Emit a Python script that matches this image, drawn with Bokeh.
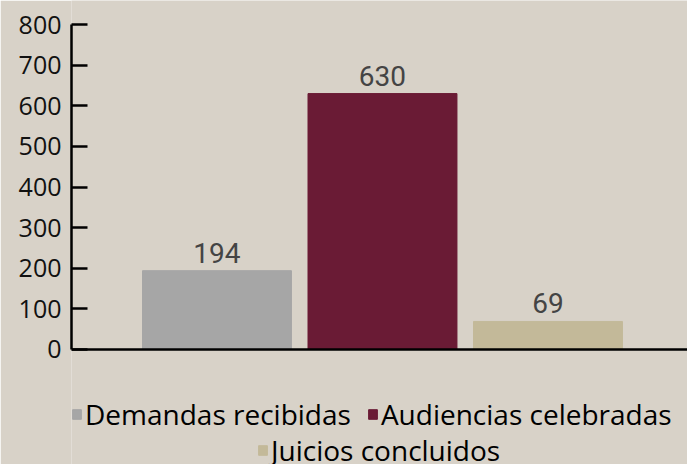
from bokeh.plotting import figure
from bokeh.models import ColumnDataSource, Range1d, FixedTicker, Legend, LegendItem, LabelSet, Span
from bokeh.core.properties import value
from bokeh.embed import file_html
from bokeh.resources import INLINE

categories = ["Demandas recibidas", "Audiencias celebradas", "Juicios concluidos"]
values = [194, 630, 69]
colors = ["#a6a6a6", "#6a1b35", "#c3b999"]
y_ticks = [0, 100, 200, 300, 400, 500, 600, 700, 800]

BG = "#d8d2c8"

x = list(range(1, len(categories) + 1))
src = ColumnDataSource(dict(x=x, top=values, color=colors,
                            label=[str(v) for v in values], cat=categories))

p = figure(width=687, height=464, output_backend="svg", toolbar_location=None,
           x_range=Range1d(0.121, 3.843), y_range=Range1d(-283.08, 859.08),
           min_border_left=71, min_border_right=0, min_border_top=0,
           min_border_bottom=0,
           background_fill_color=BG, border_fill_color=BG, outline_line_color=None)

r = p.vbar(x="x", top="top", width=0.9, color="color", source=src)

p.xgrid.visible = False
p.ygrid.visible = False
p.xaxis.visible = False

yax = p.yaxis[0]
yax.ticker = FixedTicker(ticks=y_ticks)
yax.bounds = (0, 800)
yax.major_tick_in = 16
yax.major_tick_out = 0
yax.major_tick_line_width = 2.5
yax.major_tick_line_color = "#000000"
yax.minor_tick_line_color = None
yax.axis_line_width = 2.5
yax.axis_line_color = "#000000"
yax.major_label_standoff = 10
yax.major_label_text_font = "Open Sans"
yax.major_label_text_font_size = "25px"
yax.major_label_text_color = "#111111"

p.add_layout(Span(location=0, dimension="width", line_color="#000000", line_width=2.5))

labels = LabelSet(x="x", y="top", text="label", source=src, y_offset=8,
                  text_align="center", text_baseline="alphabetic",
                  text_font=value("Roboto"), text_font_size="28px",
                  text_color="#444444")
p.add_layout(labels)

def make_legend(idx, loc):
    leg = Legend(items=[LegendItem(label=categories[i], renderers=[r], index=i) for i in idx],
                 orientation="horizontal", location=loc,
                 label_text_font="Open Sans", label_text_font_size="28px",
                 label_text_color="#000000",
                 glyph_width=11, glyph_height=12, label_standoff=3, spacing=16,
                 padding=0, margin=0, border_line_color=None,
                 background_fill_alpha=0, label_height=30)
    return leg

p.add_layout(make_legend([0, 1], (0, 31)))
p.add_layout(make_legend([2], (186, -5)))

open("out.html", "w").write(file_html(p, INLINE))
